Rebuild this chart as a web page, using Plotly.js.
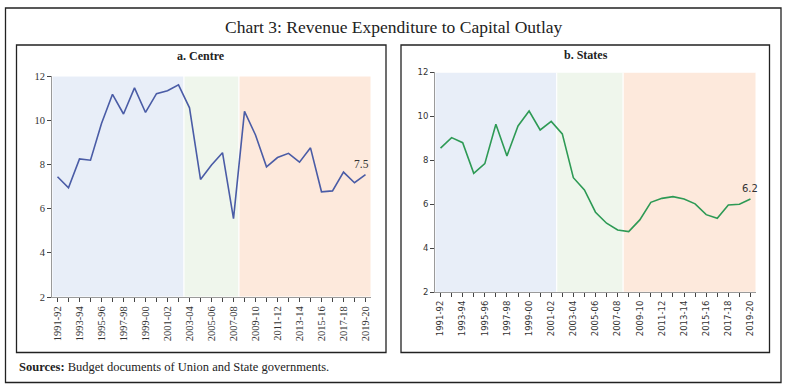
<!DOCTYPE html>
<html>
<head>
<meta charset="utf-8">
<script src="https://cdn.plot.ly/plotly-3.0.1.min.js"></script>
<style>html,body{margin:0;padding:0;background:#fff;}#chart{width:788px;height:390px;}</style>
</head>
<body>
<div id="chart"></div>
<script>
const categories = ["1991-92","1992-93","1993-94","1994-95","1995-96","1996-97","1997-98","1998-99","1999-00","2000-01","2001-02","2002-03","2003-04","2004-05","2005-06","2006-07","2007-08","2008-09","2009-10","2010-11","2011-12","2012-13","2013-14","2014-15","2015-16","2016-17","2017-18","2018-19","2019-20"];
const centre = [7.44,6.94,8.25,8.19,9.85,11.17,10.28,11.46,10.35,11.2,11.33,11.6,10.56,7.32,7.97,8.53,5.55,10.4,9.33,7.89,8.31,8.5,8.1,8.75,6.76,6.8,7.65,7.17,7.54];
const states = [8.55,9.03,8.8,7.41,7.85,9.64,8.2,9.56,10.24,9.38,9.77,9.2,7.21,6.65,5.64,5.14,4.83,4.76,5.29,6.09,6.27,6.35,6.24,6.02,5.53,5.36,5.97,6.0,6.24];
const centreLabel = "7.5";
const statesLabel = "6.2";
// phase bands (category index boundaries)
const centreBands = [[-0.5,11.5],[11.5,16.5],[16.5,28.5]];
const statesBands = [[-0.5,10.5],[10.5,16.5],[16.5,28.5]];
const bandColors = ["#E8EEF8","#EFF6EC","#FDE9DC"];

const W = 788, H = 390;
const px = v => v / W, py = v => (H - v) / H;

const tickText = categories.map((c, i) => (i % 2 === 0 ? c : ""));

function xAxis(domain, font) {
  return {
    type: "category", domain: domain, range: [-0.5, 28.5],
    tickmode: "array", tickvals: categories, ticktext: tickText,
    tickangle: -90, ticks: "outside", ticklen: 4, tickcolor: "#444", tickwidth: 1,
    showline: true, linecolor: "#9a9a9a", linewidth: 1,
    showgrid: false, zeroline: false, fixedrange: true,
    tickfont: font
  };
}
function yAxis(domain, font) {
  return {
    domain: domain, range: [2, 12], dtick: 2, tick0: 0,
    ticks: "outside", ticklen: 4, tickcolor: "#444", tickwidth: 1,
    showline: true, linecolor: "#9a9a9a", linewidth: 1,
    showgrid: false, zeroline: false, fixedrange: true,
    tickfont: font
  };
}

const serifTick = {family: "Liberation Serif, serif", size: 10.5, color: "#333"};
const sansTick = {family: "DejaVu Sans, sans-serif", size: 8.5, color: "#333"};

const traces = [
  {x: categories, y: centre, type: "scatter", mode: "lines", xaxis: "x", yaxis: "y",
   line: {color: "#4A5CA6", width: 1.6}, hoverinfo: "x+y"},
  {x: categories, y: states, type: "scatter", mode: "lines", xaxis: "x2", yaxis: "y2",
   line: {color: "#2E9A55", width: 1.6}, hoverinfo: "x+y"}
];

const shapes = [];
centreBands.forEach((b, i) => shapes.push({type: "rect", xref: "x", yref: "y", x0: b[0], x1: b[1], y0: 2, y1: 12,
  fillcolor: bandColors[i], line: {color: "#ffffff", width: 1}, layer: "below"}));
statesBands.forEach((b, i) => shapes.push({type: "rect", xref: "x2", yref: "y2", x0: b[0], x1: b[1], y0: 2, y1: 12,
  fillcolor: bandColors[i], line: {color: "#ffffff", width: 1}, layer: "below"}));
// outer frame and panel frames
shapes.push({type: "rect", xref: "paper", yref: "paper", x0: px(5.5), x1: px(781), y0: py(382.5), y1: py(8), line: {color: "#222", width: 1.3}});
shapes.push({type: "rect", xref: "paper", yref: "paper", x0: px(16.5), x1: px(386), y0: py(352.5), y1: py(45), line: {color: "#222", width: 1.3}});
shapes.push({type: "rect", xref: "paper", yref: "paper", x0: px(401), x1: px(769.5), y0: py(352.5), y1: py(45), line: {color: "#222", width: 1.3}});

const annotations = [
  {text: "Chart 3: Revenue Expenditure to Capital Outlay", xref: "paper", yref: "paper", x: px(394), y: py(27),
   showarrow: false, font: {family: "Liberation Serif, serif", size: 17.5, color: "#222"}, xanchor: "center", yanchor: "middle"},
  {text: "<b>a. Centre</b>", xref: "paper", yref: "paper", x: px(201), y: py(56),
   showarrow: false, font: {family: "Liberation Serif, serif", size: 12, color: "#222"}, xanchor: "center", yanchor: "middle"},
  {text: "<b>b. States</b>", xref: "paper", yref: "paper", x: px(586), y: py(55),
   showarrow: false, font: {family: "Liberation Serif, serif", size: 12, color: "#222"}, xanchor: "center", yanchor: "middle"},
  {text: "<b>Sources:</b> Budget documents of Union and State governments.", xref: "paper", yref: "paper", x: px(17), y: py(367),
   showarrow: false, font: {family: "Liberation Serif, serif", size: 12.5, color: "#222"}, xanchor: "left", yanchor: "middle"},
  {text: centreLabel, xref: "x", yref: "y", x: categories[categories.length - 1], y: centre[centre.length - 1],
   showarrow: false, yshift: 11, xshift: -4, font: {family: "Liberation Serif, serif", size: 11.5, color: "#333"}},
  {text: statesLabel, xref: "x2", yref: "y2", x: categories[categories.length - 1], y: states[states.length - 1],
   showarrow: false, yshift: 11, xshift: 0, font: {family: "DejaVu Sans, sans-serif", size: 10, color: "#333"}}
];

const layout = {
  width: W, height: H, margin: {l: 0, r: 0, t: 0, b: 0},
  paper_bgcolor: "#ffffff", plot_bgcolor: "rgba(0,0,0,0)",
  showlegend: false,
  xaxis: xAxis([px(52), px(371)], serifTick),
  yaxis: yAxis([py(297), py(76)], serifTick),
  xaxis2: Object.assign(xAxis([px(435), px(756)], sansTick), {anchor: "y2"}),
  yaxis2: Object.assign(yAxis([py(292.3), py(72.3)], sansTick), {anchor: "x2"}),
  shapes: shapes, annotations: annotations
};
layout.xaxis.anchor = "y";
layout.yaxis.anchor = "x";

Plotly.newPlot("chart", traces, layout, {displayModeBar: false, staticPlot: true});
</script>
</body>
</html>
